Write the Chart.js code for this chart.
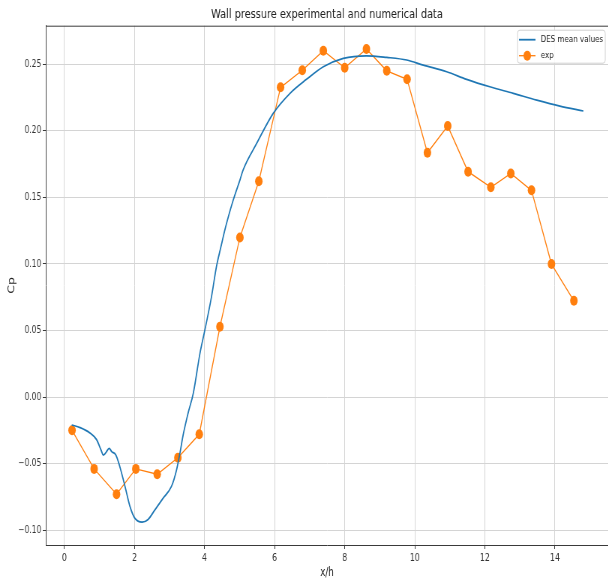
<!DOCTYPE html>
<html>
<head>
<meta charset="utf-8">
<script src="https://cdn.jsdelivr.net/npm/chart.js@4.4.1/dist/chart.umd.min.js"></script>
<style>
  html, body { margin: 0; padding: 0; background: #fff; overflow: hidden; }
  /* the reference figure is squeezed horizontally, so draw wide and squeeze */
  #wrap { width: 816px; height: 582px; transform: scaleX(0.75); transform-origin: 0 0; }
</style>
</head>
<body>
<div id="wrap"><canvas id="cpChart" width="816" height="582"></canvas></div>
<script>
// DES mean values (x/h, Cp)
const desX = [0.21, 0.45, 0.73, 0.92, 1.05, 1.11, 1.18, 1.28, 1.35, 1.47, 1.58, 1.73, 1.87, 2.01, 2.22, 2.39, 2.58, 2.82, 3.06, 3.20, 3.30, 3.39, 3.53, 3.68, 3.87, 4.01, 4.20, 4.34, 4.47, 4.58, 4.68, 4.82, 5.01, 5.10, 5.49, 5.96, 6.44, 6.91, 7.39, 7.96, 8.62, 9.20, 9.77, 10.24, 10.91, 11.48, 12.14, 12.81, 13.48, 14.14, 14.81]
const desCp = [-0.021, -0.023, -0.027, -0.032, -0.040, -0.0436, -0.042, -0.0386, -0.041, -0.0436, -0.052, -0.067, -0.082, -0.091, -0.094, -0.092, -0.085, -0.076, -0.067, -0.055, -0.042, -0.0286, -0.0123, 0.0028, 0.0328, 0.0503, 0.0754, 0.0979, 0.113, 0.1255, 0.1355, 0.148, 0.163, 0.1705, 0.1906, 0.2131, 0.2282, 0.2387, 0.2482, 0.2545, 0.2564, 0.2552, 0.2532, 0.2494, 0.2444, 0.2387, 0.2331, 0.2282, 0.2231, 0.2186, 0.2149]

// experimental points
const expX = [0.22, 0.85, 1.49, 2.04, 2.65, 3.24, 3.85, 4.44, 5.01, 5.55, 6.17, 6.79, 7.39, 8.00, 8.62, 9.20, 9.78, 10.36, 10.94, 11.52, 12.17, 12.74, 13.33, 13.90, 14.54]
const expCp = [-0.025, -0.054, -0.073, -0.054, -0.058, -0.0456, -0.028, 0.0528, 0.1199, 0.1621, 0.2327, 0.2455, 0.2602, 0.2474, 0.2615, 0.2451, 0.2387, 0.1835, 0.2036, 0.1693, 0.1576, 0.168, 0.1553, 0.0999, 0.0723]

// axis ticks
const xTicks = [0, 2, 4, 6, 8, 10, 12, 14]
const yTicks = [-0.10, -0.05, 0.00, 0.05, 0.10, 0.15, 0.20, 0.25]

const seriesNames = ['DES mean values', 'exp']
const blue = '#1f77b4'
const orange = '#ff7f0e'
const spineColor = '#3a3a3a'
const gridColor = '#d4d4d4'
const fontFam = '"DejaVu Sans", sans-serif'

function toPoints(xs, ys) {
  return xs.map((x, i) => ({ x: x, y: ys[i] }))
}

//top spine + matplotlib style legend box
const framePlugin = {
  id: 'frame',
  afterDatasetsDraw(chart) {
    const ctx = chart.ctx
    const a = chart.chartArea
    ctx.save()
    ctx.strokeStyle = spineColor
    ctx.lineWidth = 1
    ctx.beginPath()
    ctx.moveTo(a.left, a.top + 0.5)
    ctx.lineTo(a.right, a.top + 0.5)
    ctx.stroke()

    // legend
    const w = 117, h = 33
    const lx = a.right - 4 - w
    const ly = a.top + 4.5
    ctx.fillStyle = 'rgba(255,255,255,0.85)'
    ctx.strokeStyle = '#d0d0d0'
    ctx.beginPath()
    ctx.roundRect(lx, ly, w, h, 3)
    ctx.fill()
    ctx.stroke()

    ctx.font = '9.5px ' + fontFam
    ctx.textBaseline = 'middle'
    ctx.fillStyle = '#222'
    // DES
    ctx.strokeStyle = blue
    ctx.lineWidth = 1.8
    ctx.beginPath()
    ctx.moveTo(lx + 2, ly + 9.5)
    ctx.lineTo(lx + 24, ly + 9.5)
    ctx.stroke()
    ctx.fillText(seriesNames[0], lx + 31, ly + 9.5)
    // exp
    ctx.strokeStyle = orange
    ctx.lineWidth = 1.3
    ctx.beginPath()
    ctx.moveTo(lx + 2, ly + 25.5)
    ctx.lineTo(lx + 24, ly + 25.5)
    ctx.stroke()
    ctx.fillStyle = orange
    ctx.beginPath()
    ctx.arc(lx + 13, ly + 25.5, 5, 0, Math.PI * 2)
    ctx.fill()
    ctx.fillStyle = '#222'
    ctx.fillText(seriesNames[1], lx + 31, ly + 25.5)
    ctx.restore()
  }
}

const chart = new Chart(document.getElementById('cpChart'), {
  type: 'scatter',
  data: {
    datasets: [
      {
        label: seriesNames[0],
        data: toPoints(desX, desCp),
        showLine: true,
        borderColor: blue,
        borderWidth: 1.7,
        pointRadius: 0,
        cubicInterpolationMode: 'monotone',
      },
      {
        label: seriesNames[1],
        data: toPoints(expX, expCp),
        showLine: true,
        borderColor: orange,
        borderWidth: 1.3,
        backgroundColor: orange,
        pointRadius: 5,
        pointBorderWidth: 0,
        tension: 0,
      },
    ],
  },
  options: {
    responsive: false,
    animation: false,
    devicePixelRatio: 1,
    layout: { padding: { left: 0, right: 0, top: 0, bottom: 0 } },
    plugins: {
      legend: { display: false },
      tooltip: { enabled: false },
      title: {
        display: true,
        fullSize: false,
        text: 'Wall pressure experimental and numerical data',
        color: '#222',
        font: { family: fontFam, size: 13, weight: 'normal', lineHeight: 1.2 },
        padding: { top: 7, bottom: 3.1 },
      },
    },
    scales: {
      x: {
        type: 'linear',
        min: -0.53,
        max: 15.52,
        afterBuildTicks: (s) => { s.ticks = xTicks.map((v) => ({ value: v })) },
        afterFit: (s) => { s.height = 37 },
        grid: { color: gridColor, lineWidth: 1, drawTicks: true, tickLength: 4, tickColor: spineColor },
        border: { display: true, color: spineColor, width: 1 },
        ticks: {
          color: '#333',
          font: { family: fontFam, size: 10.5 },
          padding: 3,
          maxRotation: 0,
          callback: (v) => String(v),
        },
        title: {
          display: true,
          text: 'x/h',
          color: '#222',
          font: { family: fontFam, size: 11.5 },
          padding: { top: 0, bottom: 2 },
        },
      },
      y: {
        type: 'linear',
        min: -0.1112,
        max: 0.279,
        afterBuildTicks: (s) => { s.ticks = yTicks.map((v) => ({ value: v })) },
        afterFit: (s) => { s.width = 61 },
        grid: { color: gridColor, lineWidth: 1, drawTicks: true, tickLength: 4, tickColor: spineColor },
        border: { display: true, color: spineColor, width: 1 },
        ticks: {
          color: '#333',
          font: { family: fontFam, size: 10 },
          padding: 2,
          callback: (v) => (v < 0 ? '\u2212' : '') + Math.abs(v).toFixed(2),
        },
        title: {
          display: true,
          text: 'Cp',
          color: '#222',
          font: { family: fontFam, size: 12.5 },
          padding: { top: 8, bottom: 0 },
        },
      },
    },
  },
  plugins: [framePlugin],
})
</script>
</body>
</html>
